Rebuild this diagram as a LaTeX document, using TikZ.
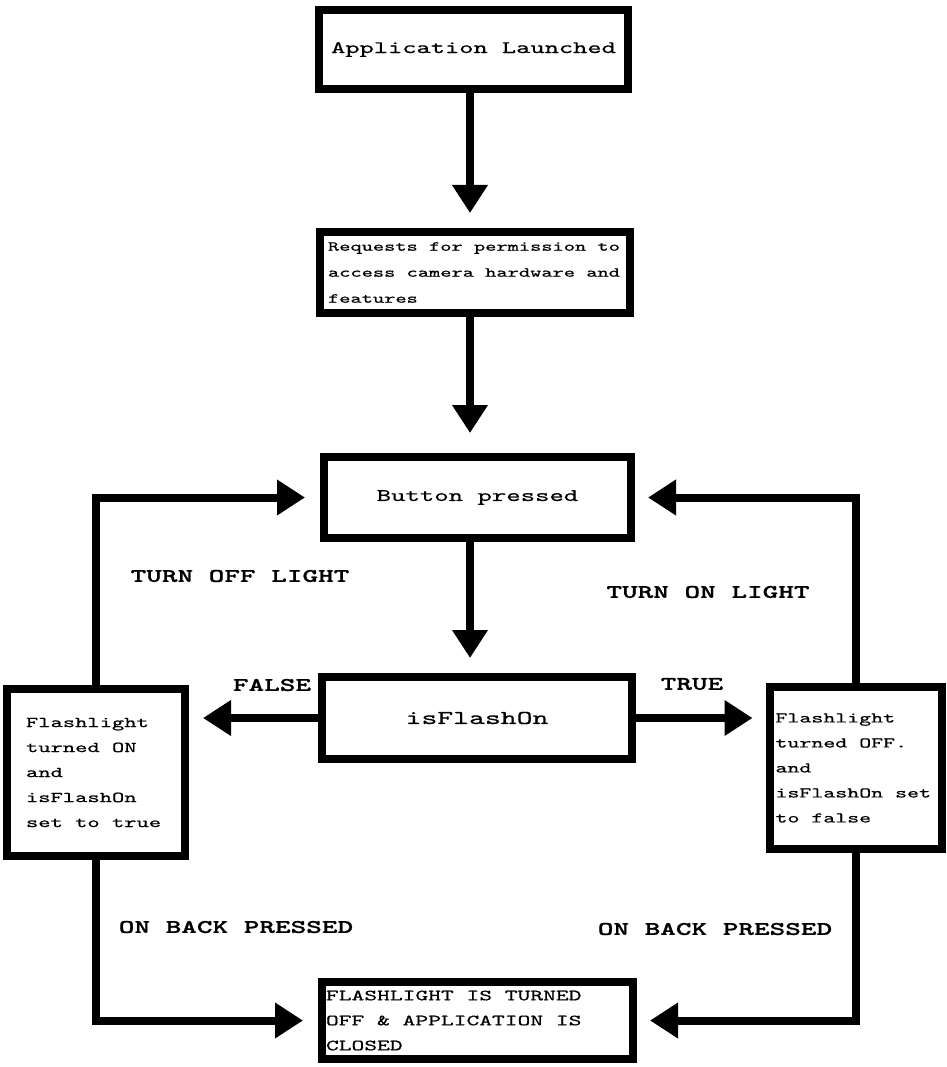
\documentclass[tikz,border=0pt]{standalone}
\usepackage{fontspec}
\newfontfamily\cour{lmmono10-regular.otf}[BoldFont=lmmonolt10-bold.otf, FakeStretch=1.55, FakeBold=0.6, BoldFeatures={FakeBold=1}]
\newcommand\fixsp{\spaceskip=\fontdimen2\font\xspaceskip=\fontdimen2\font\relax}
\usetikzlibrary{arrows.meta}
\begin{document}
\begin{tikzpicture}[x=1pt,y=-1pt,
  box/.style={draw, line width=8pt, inner sep=0pt, outer sep=0pt, fill=white},
  conn/.style={line width=8pt, -{Triangle[width=34pt,length=28pt]}},
  lbl/.style={font=\cour\bfseries\fontsize{19.2}{24}\selectfont}]
\useasboundingbox (0,0) rectangle (946,1067);
\coordinate (spine) at (470,0);
% boxes
\node[box, minimum width=309pt, minimum height=79pt, font=\cour\fontsize{17.5}{22}\selectfont] (launch) at (473.5,49.5) {Application Launched};
\node[box, minimum width=308pt, minimum height=81pt, inner xsep=8pt, text width=294pt, align=left, font=\cour\fontsize{13.8}{26}\selectfont] (perm) at (475,272.5) {\fixsp Requests for permission to\\access camera hardware and\\features};
\node[box, minimum width=307pt, minimum height=81pt, font=\cour\fontsize{17.7}{22}\selectfont] (btn) at (477.5,497.5) {Button pressed};
\node[box, minimum width=310pt, minimum height=82pt, font=\cour\fontsize{19.5}{24}\selectfont] (flash) at (477,718) {isFlashOn};
\node[box, minimum width=176pt, minimum height=167pt, inner xsep=19pt, text width=140pt, align=left, font=\cour\fontsize{15.1}{25}\selectfont] (lb) at (96,772.5) {\fixsp Flashlight\\turned ON\\and\\isFlashOn\\set to true};
\node[box, minimum width=169pt, minimum height=162pt, inner xsep=6pt, text width=160pt, align=left, font=\cour\fontsize{14.7}{25}\selectfont] (rb) at (855.5,768) {\fixsp Flashlight\\turned OFF.\\and\\isFlashOn set\\to false};
\node[box, minimum width=311pt, minimum height=77pt, inner xsep=4pt, text width=303pt, align=left, font=\cour\fontsize{15.7}{25}\selectfont] (close) at (477.5,1020.5) {\fixsp FLASHLIGHT IS TURNED\\OFF \& APPLICATION IS\\CLOSED};
% connectors
\draw[conn, shorten >=19pt] (launch.south -| spine) -- (perm.north -| spine);
\draw[conn, shorten >=24pt] (perm.south -| spine) -- (btn.north -| spine);
\draw[conn, shorten >=19pt] (btn.south -| spine) -- (flash.north -| spine);
\draw[conn, shorten >=18pt] (flash.west) -- (flash.west -| lb.east);
\draw[conn, shorten >=17pt] (flash.east) -- (flash.east -| rb.west);
\draw[conn, shorten >=19pt] (lb.north) |- (btn.west);
\draw[conn, shorten >=17pt] (rb.north) |- (btn.east);
\draw[conn, shorten >=19pt] (lb.south) |- (close.west);
\draw[conn, shorten >=17pt] (rb.south) |- (close.east);
% labels
\node[lbl] (lfalse) at (272,685) {FALSE};
\node[lbl] (ltrue) at (692,684) {TRUE};
\node[lbl] (loff) at (240,576) {TURN OFF LIGHT};
\node[lbl] (lon) at (708,592) {TURN ON LIGHT};
\node[lbl] (lbackl) at (236,927) {ON BACK PRESSED};
\node[lbl] (lbackr) at (715,929) {ON BACK PRESSED};
\end{tikzpicture}
\end{document}
